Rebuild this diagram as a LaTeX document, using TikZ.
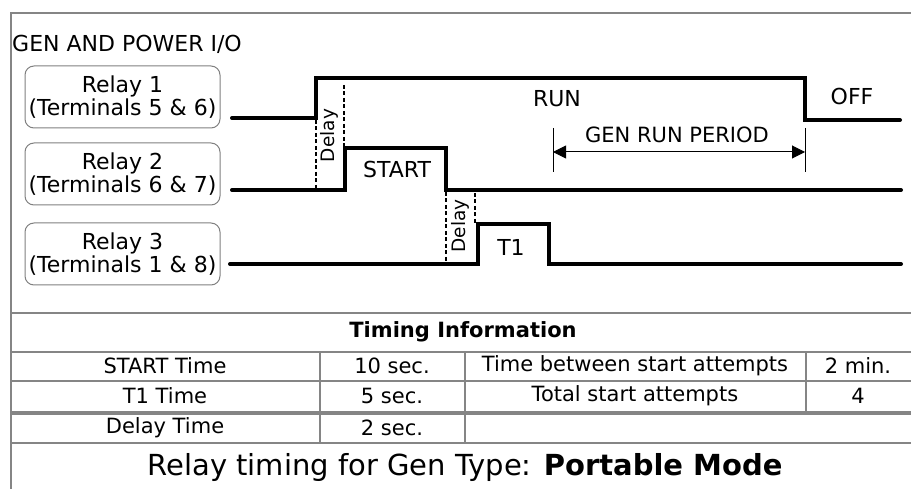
\documentclass[tikz,border=0pt]{standalone}
\usepackage{fontspec}
\setmainfont{DejaVu Sans}
\usetikzlibrary{arrows.meta}
\definecolor{gridgray}{HTML}{858585}
\definecolor{boxgray}{HTML}{808080}
\begin{document}
\begin{tikzpicture}[x=1pt,y=-1pt,
  frame/.style={draw=gridgray,line width=2.4pt},
  relaybox/.style={draw=boxgray,line width=1pt,rounded corners=9pt,minimum width=195pt,minimum height=62pt,inner sep=0pt,align=center,font=\fontsize{22}{21}\selectfont},
  sig/.style={line width=4pt,line cap=round,line join=miter},
  dline/.style={line width=2pt,dash pattern=on 4pt off 2.5pt},
  lbl/.style={font=\fontsize{22}{22}\selectfont,inner sep=0pt,anchor=base},
  dly/.style={font=\fontsize{18.5}{18.5}\selectfont,inner sep=0pt,rotate=90},
  cell/.style={font=\fontsize{21}{21}\selectfont,inner sep=0pt}
  ]
\useasboundingbox (0,0) rectangle (911,489);
% frame
\draw[frame] (911,13) -- (11,13) -- (11,489);
\node[lbl,anchor=base west] (title) at (12,52) {GEN AND POWER I/O};
% relay boxes
\node[relaybox] (r1) at (122.5,97) {Relay 1\\(Terminals 5 \& 6)};
\node[relaybox] (r2) at (122.5,174) {Relay 2\\(Terminals 6 \& 7)};
\node[relaybox] (r3) at (122.5,254) {Relay 3\\(Terminals 1 \& 8)};
% waveforms
\draw[sig] (232,118) -- (316,118) -- (316,78) -- (805,78) -- (805,120) -- (900,120);
\draw[sig] (232,190) -- (345,190) -- (345,148) -- (446,148) -- (446,190) -- (901,190);
\draw[sig] (230,264) -- (478,264) -- (478,224) -- (549,224) -- (549,264) -- (901,264);
% delays
\draw[dline] (316,120) -- (316,190);
\draw[dline] (344,85) -- (344,148);
\draw[dline] (446,192) -- (446,264);
\draw[dline] (475,193) -- (475,224);
\node[dly] (d1) at (329,135.5) {Delay};
\node[dly] (d2) at (460,226) {Delay};
% labels
\node[lbl] (run) at (557,107) {RUN};
\node[lbl] (off) at (852,105) {OFF};
\node[lbl] (start) at (397,178) {START};
\node[lbl] (t1) at (511,256) {T1};
% gen run period
\coordinate (pl) at (553,152);
\coordinate (pr) at (805,152);
\draw[line width=1pt] (553,128) -- (553,172);
\draw[line width=1pt] (805,128) -- (805,172);
\draw[line width=1pt,{Triangle[length=13pt,width=13pt]}-{Triangle[length=13pt,width=13pt]}] (pl) -- (pr);
\node[lbl,font=\fontsize{21}{21}\selectfont] (grp) at (677,143) {GEN RUN PERIOD};
% table
\draw[frame] (11,313) -- (911,313);
\draw[frame] (11,352) -- (911,352);
\draw[frame] (11,381) -- (911,381);
\draw[draw=gridgray,line width=4pt] (11,413) -- (911,413);
\draw[frame] (11,443) -- (911,443);
\draw[frame] (320,352) -- (320,443);
\draw[frame] (465,352) -- (465,443);
\draw[frame] (806,352) -- (806,413);
\node[cell,font=\fontsize{21}{21}\bfseries\selectfont] (ti) at (463,332) {Timing Information};
\node[cell] (c11) at (165,366) {START Time};
\node[cell] (c12) at (392,366) {10 sec.};
\node[cell] (c13) at (635,366) {Time between start attempts};
\node[cell] (c14) at (858,366) {2 min.};
\node[cell] (c21) at (165,396) {T1 Time};
\node[cell] (c22) at (392,396) {5 sec.};
\node[cell] (c23) at (635,396) {Total start attempts};
\node[cell] (c24) at (858,396) {4};
\node[cell] (c31) at (165,428) {Delay Time};
\node[cell] (c32) at (392,428) {2 sec.};
\node[cell,font=\fontsize{29}{29}\selectfont] (cap) at (465,467) {Relay timing for Gen Type: \textbf{Portable Mode}};
\end{tikzpicture}
\end{document}
